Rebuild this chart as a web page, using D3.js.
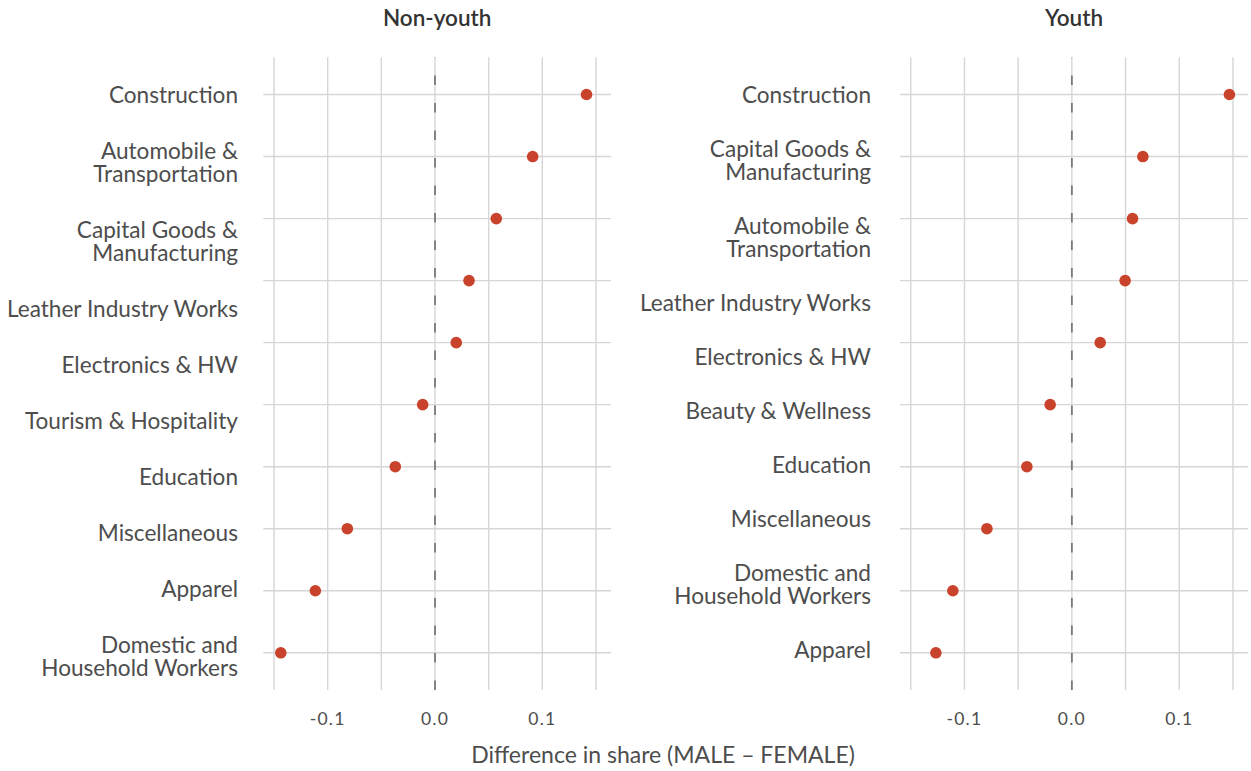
<!DOCTYPE html>
<html>
<head>
<meta charset="utf-8">
<script src="https://cdn.jsdelivr.net/npm/d3@7"></script>
<style>
  body { margin: 0; background: #fff; }
  text { font-family: Lato, "Open Sans", sans-serif; }
</style>
</head>
<body>
<svg id="chart" width="1251" height="771"></svg>
<script>
// Sector labels (line breaks marked with \n) and male-minus-female share differences
const nonYouthSectors = [
  "Construction",
  "Automobile &\nTransportation",
  "Capital Goods &\nManufacturing",
  "Leather Industry Works",
  "Electronics & HW",
  "Tourism & Hospitality",
  "Education",
  "Miscellaneous",
  "Apparel",
  "Domestic and\nHousehold Workers"
];
const nonYouthDiff = [0.1412, 0.0910, 0.0571, 0.0317, 0.0198, -0.0115, -0.0370, -0.0817, -0.1115, -0.1437];

const youthSectors = [
  "Construction",
  "Capital Goods &\nManufacturing",
  "Automobile &\nTransportation",
  "Leather Industry Works",
  "Electronics & HW",
  "Beauty & Wellness",
  "Education",
  "Miscellaneous",
  "Domestic and\nHousehold Workers",
  "Apparel"
];
const youthDiff = [0.1467, 0.0661, 0.0565, 0.0496, 0.0264, -0.0202, -0.0419, -0.0791, -0.1108, -0.1266];

const panelTitles = ["Non-youth", "Youth"];
const xTicks = [-0.1, 0, 0.1];
const xTickLabels = ["-0.1", "0.0", "0.1"];
const gridBreaks = [-0.15, -0.1, -0.05, 0, 0.05, 0.1, 0.15];
const xTitle = "Difference in share (MALE \u2013 FEMALE)";

// Layout
const svg = d3.select("#chart");
const plotTop = 57.3, plotBottom = 690;
const xDomain = [-0.16, 0.164];
const textColor = "#4d4d4d";
const gridColor = "#d6d6d6";
const dotColor = "#c9432c";

const panels = [
  { title: panelTitles[0], sectors: nonYouthSectors, values: nonYouthDiff,
    x0: 263.3, x1: 611, labelRight: 238, firstLabel: 95, lineH: 23, pad: 33 },
  { title: panelTitles[1], sectors: youthSectors, values: youthDiff,
    x0: 900, x1: 1248, labelRight: 871, firstLabel: 95, lineH: 23, pad: 31 }
];

panels.forEach(p => {
  const x = d3.scaleLinear().domain(xDomain).range([p.x0, p.x1]);
  const y = d3.scalePoint().domain(p.sectors).range([plotTop, plotBottom]).padding(0.6);
  const g = svg.append("g");

  // vertical grid
  g.selectAll(".vgrid").data(gridBreaks).join("line")
    .attr("x1", d => x(d)).attr("x2", d => x(d))
    .attr("y1", plotTop).attr("y2", plotBottom)
    .attr("stroke", gridColor).attr("stroke-width", 1.4);

  // horizontal grid
  g.selectAll(".hgrid").data(p.sectors).join("line")
    .attr("x1", p.x0).attr("x2", p.x1)
    .attr("y1", d => y(d)).attr("y2", d => y(d))
    .attr("stroke", gridColor).attr("stroke-width", 1.4);

  // zero reference line, dashes start at the bottom edge
  g.append("line")
    .attr("x1", x(0)).attr("x2", x(0))
    .attr("y1", plotBottom).attr("y2", plotTop)
    .attr("stroke", "#7a7a7a").attr("stroke-width", 1.8)
    .attr("stroke-dasharray", "9.5,18");

  // points
  g.selectAll(".dot").data(p.sectors.map((s, i) => ({ s, v: p.values[i] }))).join("circle")
    .attr("cx", d => x(d.v)).attr("cy", d => y(d.s))
    .attr("r", 5.8).attr("fill", dotColor);

  // sector labels stacked by their line count
  let prevSlot = null, cy = p.firstLabel;
  p.sectors.forEach((s, i) => {
    const lines = s.split("\n");
    const slot = lines.length * p.lineH + p.pad;
    if (i > 0) cy += (prevSlot + slot) / 2;
    prevSlot = slot;
    const t = g.append("text")
      .attr("text-anchor", "end")
      .attr("fill", textColor)
      .attr("font-size", 22.6);
    lines.forEach((ln, k) => {
      t.append("tspan")
        .attr("x", p.labelRight)
        .attr("y", cy + (k - (lines.length - 1) / 2) * p.lineH)
        .attr("dy", "0.35em")
        .text(ln);
    });
  });

  // x tick labels
  g.selectAll(".tick").data(xTicks).join("text")
    .attr("x", d => x(d)).attr("y", 719).attr("dy", "0.35em")
    .attr("text-anchor", "middle")
    .attr("fill", textColor)
    .attr("font-size", 17.5)
    .attr("letter-spacing", 1.2)
    .text((d, i) => xTickLabels[i]);

  // panel title
  g.append("text")
    .attr("x", (p.x0 + p.x1) / 2).attr("y", 18).attr("dy", "0.35em")
    .attr("text-anchor", "middle")
    .attr("fill", "#333")
    .attr("font-size", 22.5).attr("font-weight", 600)
    .text(p.title);
});

// shared x-axis title
svg.append("text")
  .attr("x", 663).attr("y", 755).attr("dy", "0.35em")
  .attr("text-anchor", "middle")
  .attr("fill", textColor)
  .attr("font-size", 23)
  .text(xTitle);
</script>
</body>
</html>
